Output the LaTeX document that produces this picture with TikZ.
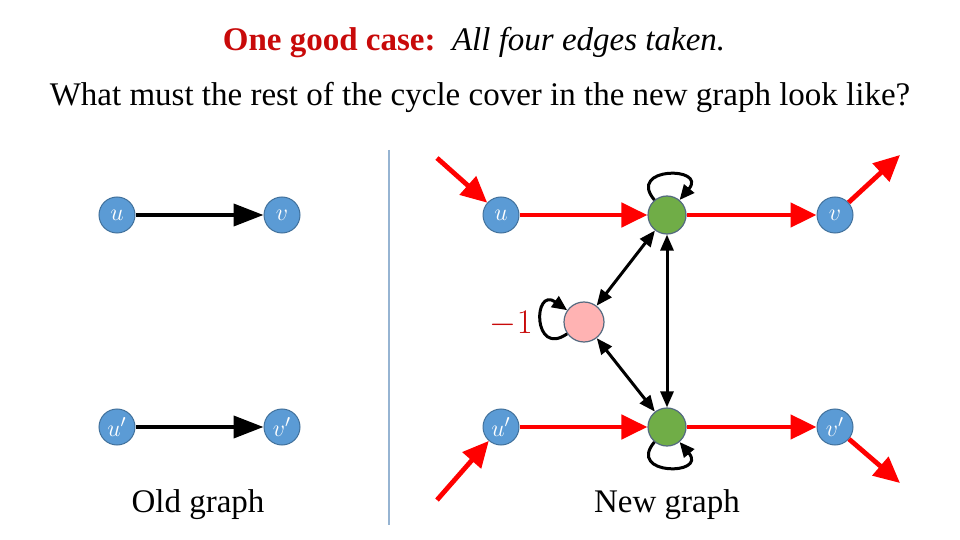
\documentclass[tikz,border=0pt]{standalone}
\usepackage{fontspec}
\setmainfont{Liberation Serif}
\usetikzlibrary{arrows.meta}

\definecolor{nodeblue}{RGB}{91,155,213}
\definecolor{nodeedge}{RGB}{65,113,156}
\definecolor{nodegreen}{RGB}{112,173,71}
\definecolor{nodepink}{RGB}{255,179,179}
\definecolor{ringgray}{RGB}{84,106,128}
\definecolor{sepline}{RGB}{150,180,210}
\definecolor{titlered}{RGB}{200,10,10}

\newcommand{\bigtext}{\fontsize{16.5}{20}\selectfont}

\begin{document}
\begin{tikzpicture}[x=0.5pt,y=-0.5pt,
  vert/.style={circle,fill=nodeblue,draw=nodeedge,line width=0.5pt,minimum size=18pt,inner sep=0pt,text=white,font=\fontsize{13}{15}\selectfont},
  mid/.style={circle,fill=nodegreen,draw=ringgray,line width=0.6pt,minimum size=19pt,inner sep=0pt},
  aux/.style={circle,fill=nodepink,draw=ringgray,line width=0.6pt,minimum size=20pt,inner sep=0pt},
  oldedge/.style={line width=2pt,-{Triangle[length=15pt,width=11pt]}},
  redarr/.style={red,line width=2.4pt,-{Triangle[length=13pt,width=12pt]}},
  dbl/.style={line width=1.5pt,{Triangle[length=8pt,width=6.5pt]}-{Triangle[length=8pt,width=6.5pt]}},
  selfloop/.style={line width=1.5pt,-{Triangle[length=7.5pt,width=6.5pt]}}]
  \useasboundingbox (0,0) rectangle (960,540);

  % titles
  \node (head) at (474,43) {\bigtext\textcolor{titlered}{\textbf{One good case:}}\ \ \textit{All four edges taken.}};
  \node (quest) at (480,97) {\bigtext What must the rest of the cycle cover in the new graph look like?};

  % old graph
  \node[vert] (ou) at (117,215) {$u$};
  \node[vert] (ov) at (282,215) {$v$};
  \node[vert] (oup) at (117,427) {$u'$};
  \node[vert] (ovp) at (282,427) {$v'$};
  \draw[oldedge] (ou) -- (ov);
  \draw[oldedge] (oup) -- (ovp);
  \node (oldlbl) at (198,505) {\bigtext Old graph};

  \draw[sepline,line width=0.6pt] (389,150) -- (389,525);

  % new graph
  \node[vert] (nu) at (501,215) {$u$};
  \node[mid] (tg) at (667,215) {};
  \node[vert] (nv) at (835,215) {$v$};
  \node[vert] (nup) at (501,427) {$u'$};
  \node[mid] (bg) at (667,427) {};
  \node[vert] (nvp) at (835,427) {$v'$};
  \node[aux] (pk) at (584,322) {};
  \node[text=titlered,anchor=east,inner sep=0pt] (wt) at (533,324) {\bigtext$-1$};

  \coordinate (inu) at (437,158);
  \coordinate (outv) at (900,155);
  \coordinate (inup) at (437,500);
  \coordinate (outvp) at (900,483);

  \draw[redarr] (inu) -- (nu);
  \draw[redarr] (nu) -- (tg);
  \draw[redarr] (tg) -- (nv);
  \draw[redarr] (nv) -- (outv);
  \draw[redarr] (inup) -- (nup);
  \draw[redarr] (nup) -- (bg);
  \draw[redarr] (bg) -- (nvp);
  \draw[redarr] (nvp) -- (outvp);

  \draw[dbl] (tg) -- (pk);
  \draw[dbl] (pk) -- (bg);
  \draw[dbl] (tg) -- (bg);

  % self loops
  \draw[selfloop] (tg.130) .. controls +(130:22pt) and +(50:22pt) .. (tg.50);
  \draw[selfloop] (bg.230) .. controls +(230:22pt) and +(310:22pt) .. (bg.310);
  \draw[selfloop] (pk.215) .. controls +(215:21pt) and +(145:21pt) .. (pk.145);

  \node (newlbl) at (667,505) {\bigtext New graph};
\end{tikzpicture}
\end{document}
